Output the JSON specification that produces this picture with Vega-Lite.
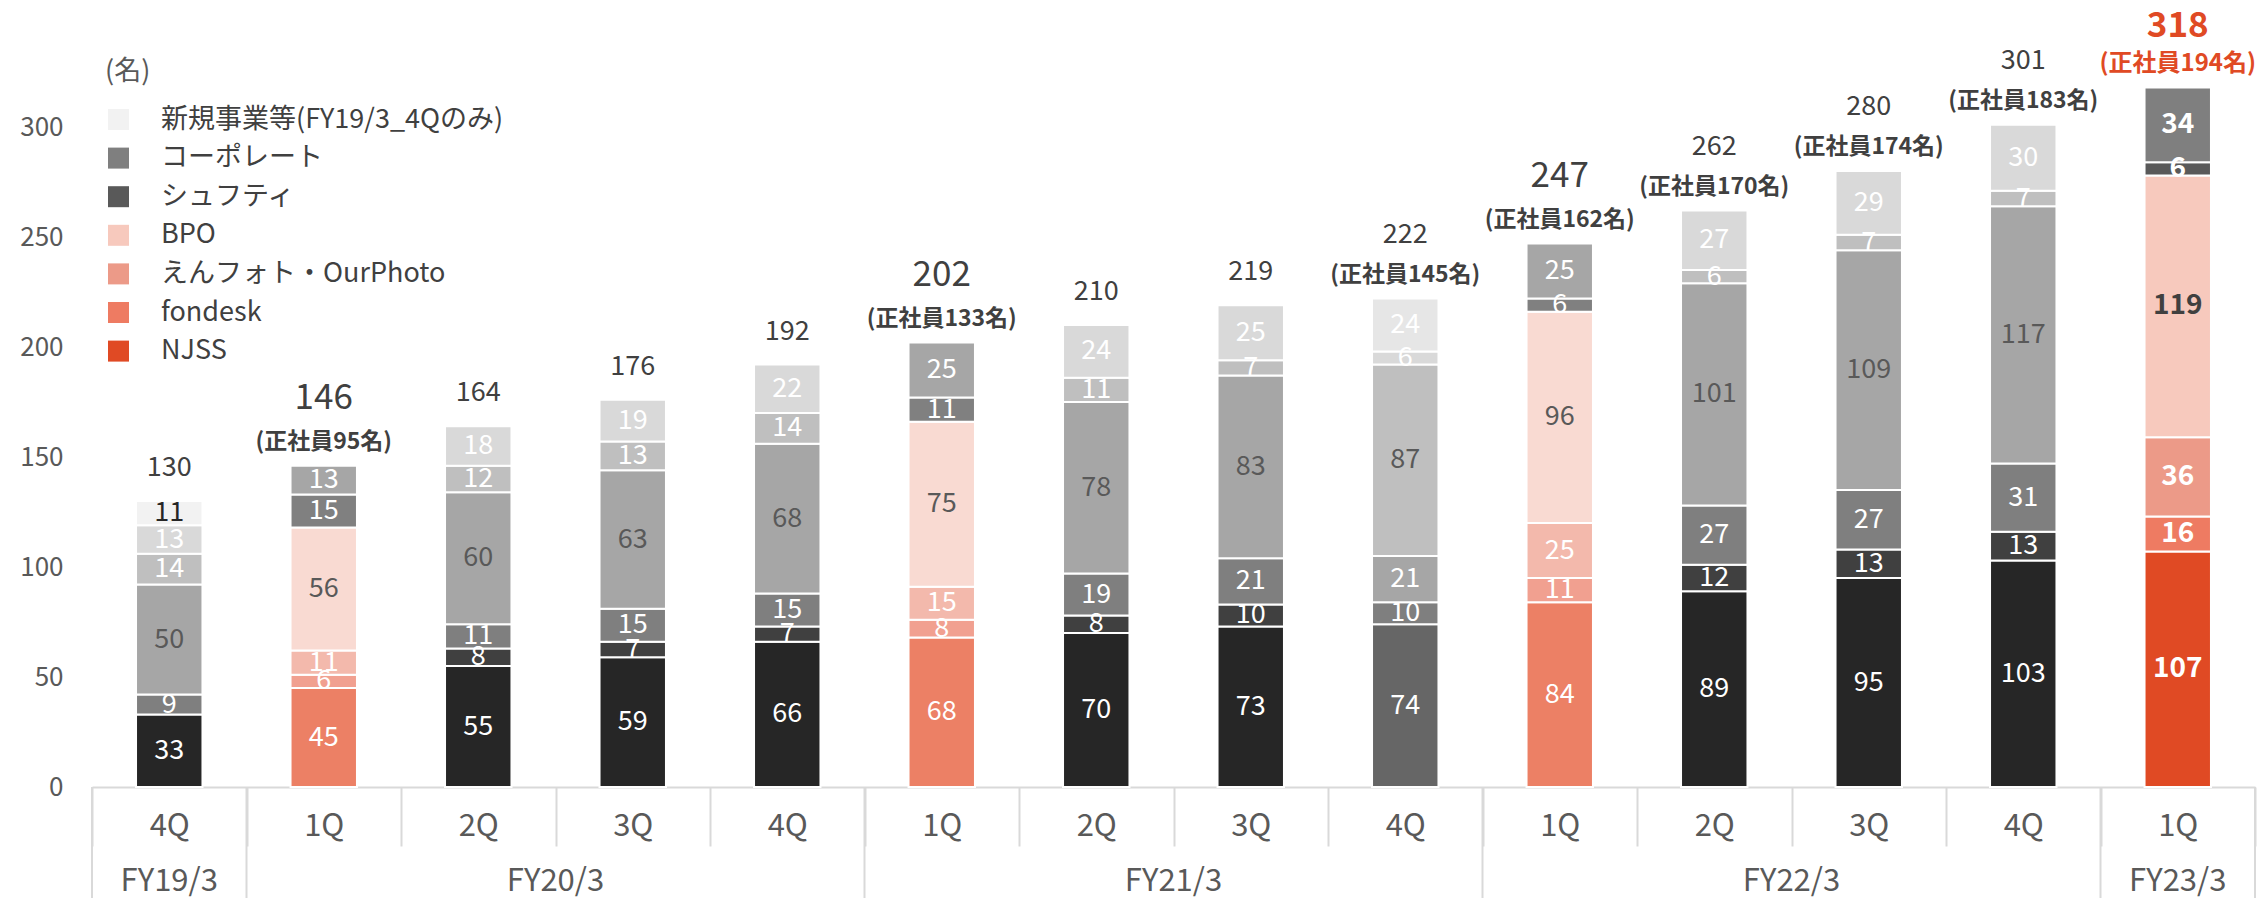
{
  "$schema": "https://vega.github.io/schema/vega-lite/v6.json",
  "width": 2163,
  "height": 770,
  "autosize": {"type": "none"},
  "padding": {"left": 92, "top": 17, "right": 2, "bottom": 111},
  "background": "white",
  "datasets": {
    "segments": [
      {"period": "FY19/3 4Q", "series": "NJSS", "value": 33},
      {"period": "FY19/3 4Q", "series": "えんフォト・OurPhoto", "value": 9},
      {"period": "FY19/3 4Q", "series": "BPO", "value": 50},
      {"period": "FY19/3 4Q", "series": "シュフティ", "value": 14},
      {"period": "FY19/3 4Q", "series": "コーポレート", "value": 13},
      {"period": "FY19/3 4Q", "series": "新規事業等(FY19/3_4Qのみ)", "value": 11},
      {"period": "FY20/3 1Q", "series": "NJSS", "value": 45},
      {"period": "FY20/3 1Q", "series": "fondesk", "value": 6},
      {"period": "FY20/3 1Q", "series": "えんフォト・OurPhoto", "value": 11},
      {"period": "FY20/3 1Q", "series": "BPO", "value": 56},
      {"period": "FY20/3 1Q", "series": "シュフティ", "value": 15},
      {"period": "FY20/3 1Q", "series": "コーポレート", "value": 13},
      {"period": "FY20/3 2Q", "series": "NJSS", "value": 55},
      {"period": "FY20/3 2Q", "series": "fondesk", "value": 8},
      {"period": "FY20/3 2Q", "series": "えんフォト・OurPhoto", "value": 11},
      {"period": "FY20/3 2Q", "series": "BPO", "value": 60},
      {"period": "FY20/3 2Q", "series": "シュフティ", "value": 12},
      {"period": "FY20/3 2Q", "series": "コーポレート", "value": 18},
      {"period": "FY20/3 3Q", "series": "NJSS", "value": 59},
      {"period": "FY20/3 3Q", "series": "fondesk", "value": 7},
      {"period": "FY20/3 3Q", "series": "えんフォト・OurPhoto", "value": 15},
      {"period": "FY20/3 3Q", "series": "BPO", "value": 63},
      {"period": "FY20/3 3Q", "series": "シュフティ", "value": 13},
      {"period": "FY20/3 3Q", "series": "コーポレート", "value": 19},
      {"period": "FY20/3 4Q", "series": "NJSS", "value": 66},
      {"period": "FY20/3 4Q", "series": "fondesk", "value": 7},
      {"period": "FY20/3 4Q", "series": "えんフォト・OurPhoto", "value": 15},
      {"period": "FY20/3 4Q", "series": "BPO", "value": 68},
      {"period": "FY20/3 4Q", "series": "シュフティ", "value": 14},
      {"period": "FY20/3 4Q", "series": "コーポレート", "value": 22},
      {"period": "FY21/3 1Q", "series": "NJSS", "value": 68},
      {"period": "FY21/3 1Q", "series": "fondesk", "value": 8},
      {"period": "FY21/3 1Q", "series": "えんフォト・OurPhoto", "value": 15},
      {"period": "FY21/3 1Q", "series": "BPO", "value": 75},
      {"period": "FY21/3 1Q", "series": "シュフティ", "value": 11},
      {"period": "FY21/3 1Q", "series": "コーポレート", "value": 25},
      {"period": "FY21/3 2Q", "series": "NJSS", "value": 70},
      {"period": "FY21/3 2Q", "series": "fondesk", "value": 8},
      {"period": "FY21/3 2Q", "series": "えんフォト・OurPhoto", "value": 19},
      {"period": "FY21/3 2Q", "series": "BPO", "value": 78},
      {"period": "FY21/3 2Q", "series": "シュフティ", "value": 11},
      {"period": "FY21/3 2Q", "series": "コーポレート", "value": 24},
      {"period": "FY21/3 3Q", "series": "NJSS", "value": 73},
      {"period": "FY21/3 3Q", "series": "fondesk", "value": 10},
      {"period": "FY21/3 3Q", "series": "えんフォト・OurPhoto", "value": 21},
      {"period": "FY21/3 3Q", "series": "BPO", "value": 83},
      {"period": "FY21/3 3Q", "series": "シュフティ", "value": 7},
      {"period": "FY21/3 3Q", "series": "コーポレート", "value": 25},
      {"period": "FY21/3 4Q", "series": "NJSS", "value": 74},
      {"period": "FY21/3 4Q", "series": "fondesk", "value": 10},
      {"period": "FY21/3 4Q", "series": "えんフォト・OurPhoto", "value": 21},
      {"period": "FY21/3 4Q", "series": "BPO", "value": 87},
      {"period": "FY21/3 4Q", "series": "シュフティ", "value": 6},
      {"period": "FY21/3 4Q", "series": "コーポレート", "value": 24},
      {"period": "FY22/3 1Q", "series": "NJSS", "value": 84},
      {"period": "FY22/3 1Q", "series": "fondesk", "value": 11},
      {"period": "FY22/3 1Q", "series": "えんフォト・OurPhoto", "value": 25},
      {"period": "FY22/3 1Q", "series": "BPO", "value": 96},
      {"period": "FY22/3 1Q", "series": "シュフティ", "value": 6},
      {"period": "FY22/3 1Q", "series": "コーポレート", "value": 25},
      {"period": "FY22/3 2Q", "series": "NJSS", "value": 89},
      {"period": "FY22/3 2Q", "series": "fondesk", "value": 12},
      {"period": "FY22/3 2Q", "series": "えんフォト・OurPhoto", "value": 27},
      {"period": "FY22/3 2Q", "series": "BPO", "value": 101},
      {"period": "FY22/3 2Q", "series": "シュフティ", "value": 6},
      {"period": "FY22/3 2Q", "series": "コーポレート", "value": 27},
      {"period": "FY22/3 3Q", "series": "NJSS", "value": 95},
      {"period": "FY22/3 3Q", "series": "fondesk", "value": 13},
      {"period": "FY22/3 3Q", "series": "えんフォト・OurPhoto", "value": 27},
      {"period": "FY22/3 3Q", "series": "BPO", "value": 109},
      {"period": "FY22/3 3Q", "series": "シュフティ", "value": 7},
      {"period": "FY22/3 3Q", "series": "コーポレート", "value": 29},
      {"period": "FY22/3 4Q", "series": "NJSS", "value": 103},
      {"period": "FY22/3 4Q", "series": "fondesk", "value": 13},
      {"period": "FY22/3 4Q", "series": "えんフォト・OurPhoto", "value": 31},
      {"period": "FY22/3 4Q", "series": "BPO", "value": 117},
      {"period": "FY22/3 4Q", "series": "シュフティ", "value": 7},
      {"period": "FY22/3 4Q", "series": "コーポレート", "value": 30},
      {"period": "FY23/3 1Q", "series": "NJSS", "value": 107},
      {"period": "FY23/3 1Q", "series": "fondesk", "value": 16},
      {"period": "FY23/3 1Q", "series": "えんフォト・OurPhoto", "value": 36},
      {"period": "FY23/3 1Q", "series": "BPO", "value": 119},
      {"period": "FY23/3 1Q", "series": "シュフティ", "value": 6},
      {"period": "FY23/3 1Q", "series": "コーポレート", "value": 34}
    ],
    "totals": [
      {"period": "FY19/3 4Q", "total": 130, "staff": null},
      {"period": "FY20/3 1Q", "total": 146, "staff": 95},
      {"period": "FY20/3 2Q", "total": 164, "staff": null},
      {"period": "FY20/3 3Q", "total": 176, "staff": null},
      {"period": "FY20/3 4Q", "total": 192, "staff": null},
      {"period": "FY21/3 1Q", "total": 202, "staff": 133},
      {"period": "FY21/3 2Q", "total": 210, "staff": null},
      {"period": "FY21/3 3Q", "total": 219, "staff": null},
      {"period": "FY21/3 4Q", "total": 222, "staff": 145},
      {"period": "FY22/3 1Q", "total": 247, "staff": 162},
      {"period": "FY22/3 2Q", "total": 262, "staff": 170},
      {"period": "FY22/3 3Q", "total": 280, "staff": 174},
      {"period": "FY22/3 4Q", "total": 301, "staff": 183},
      {"period": "FY23/3 1Q", "total": 318, "staff": 194}
    ],
    "groups": [
      {"fy": "FY19/3", "first": "FY19/3 4Q", "mid": "FY19/3 4Q", "last": "FY19/3 4Q", "bars": 1},
      {"fy": "FY20/3", "first": "FY20/3 1Q", "mid": "FY20/3 3Q", "last": "FY20/3 4Q", "bars": 4},
      {"fy": "FY21/3", "first": "FY21/3 1Q", "mid": "FY21/3 3Q", "last": "FY21/3 4Q", "bars": 4},
      {"fy": "FY22/3", "first": "FY22/3 1Q", "mid": "FY22/3 3Q", "last": "FY22/3 4Q", "bars": 4},
      {"fy": "FY23/3", "first": "FY23/3 1Q", "mid": "FY23/3 1Q", "last": "FY23/3 1Q", "bars": 1}
    ]
  },
  "layer": [
    {
      "data": {"name": "segments"},
      "transform": [
        {"calculate": "indexof(['NJSS','fondesk','えんフォト・OurPhoto','BPO','シュフティ','コーポレート','新規事業等(FY19/3_4Qのみ)'], datum.series)", "as": "rank"},
        {"calculate": "datum.period == 'FY23/3 1Q' ? 'latest' : (datum.period == 'FY21/3 4Q' ? 'alt' : (indexof(['FY20/3 1Q','FY21/3 1Q','FY22/3 1Q'], datum.period) >= 0 ? 'q1' : 'base'))", "as": "tone"},
        {"calculate": "datum.series + '|' + datum.tone", "as": "key"},
        {"stack": "value", "groupby": ["period"], "sort": [{"field": "rank", "order": "ascending"}], "as": ["v0", "v1"]},
        {"calculate": "(datum.v0 + datum.v1) / 2", "as": "mid"}
      ],
      "layer": [
        {
          "mark": {"type": "bar", "width": {"band": 0.43}, "stroke": "white", "strokeWidth": 2},
          "encoding": {
            "x": {
              "field": "period", "type": "nominal", "title": null,
              "scale": {
                "domain": ["FY19/3 4Q", "FY20/3 1Q", "FY20/3 2Q", "FY20/3 3Q", "FY20/3 4Q", "FY21/3 1Q", "FY21/3 2Q", "FY21/3 3Q", "FY21/3 4Q", "FY22/3 1Q", "FY22/3 2Q", "FY22/3 3Q", "FY22/3 4Q", "FY23/3 1Q"],
                "paddingInner": 0, "paddingOuter": 0
              }
            },
            "y": {
              "field": "v0", "type": "quantitative", "title": null,
              "scale": {"domain": [0, 350], "nice": false},
              "axis": {"values": [0, 50, 100, 150, 200, 250, 300]}
            },
            "y2": {"field": "v1"},
            "color": {
              "field": "key", "type": "nominal",
              "scale": {
                "domain": [
                  "NJSS|base", "fondesk|base", "えんフォト・OurPhoto|base", "BPO|base", "シュフティ|base", "コーポレート|base", "新規事業等(FY19/3_4Qのみ)|base",
                  "NJSS|q1", "fondesk|q1", "えんフォト・OurPhoto|q1", "BPO|q1", "シュフティ|q1", "コーポレート|q1",
                  "NJSS|alt", "fondesk|alt", "えんフォト・OurPhoto|alt", "BPO|alt", "シュフティ|alt", "コーポレート|alt",
                  "NJSS|latest", "fondesk|latest", "えんフォト・OurPhoto|latest", "BPO|latest", "シュフティ|latest", "コーポレート|latest", "新規事業等(FY19/3_4Qのみ)|latest"
                ],
                "range": [
                  "#262626", "#404040", "#7f7f7f", "#a6a6a6", "#bfbfbf", "#d9d9d9", "#f2f2f2",
                  "#ec8065", "#f1a090", "#f3b9ac", "#f9dad2", "#808080", "#a6a6a6",
                  "#666666", "#7f7f7f", "#a6a6a6", "#bfbfbf", "#d9d9d9", "#e6e6e6",
                  "#e04a24", "#ee7b62", "#ec9a88", "#f7c9bd", "#595959", "#7f7f7f", "#f2f2f2"
                ]
              },
              "legend": {
                "values": ["新規事業等(FY19/3_4Qのみ)|latest", "コーポレート|latest", "シュフティ|latest", "BPO|latest", "えんフォト・OurPhoto|latest", "fondesk|latest", "NJSS|latest"],
                "labelExpr": "split(datum.label, '|')[0]",
                "orient": "none", "legendX": 13, "legendY": 42, "direction": "vertical",
                "title": "(名)", "titleFontSize": 27, "titleFontWeight": "normal", "titleColor": "#595959", "titlePadding": 20,
                "labelFontSize": 27, "labelColor": "#404040", "labelOffset": 29, "labelLimit": 800,
                "symbolType": "square", "symbolSize": 441, "symbolStrokeWidth": 0, "symbolOpacity": 1,
                "rowPadding": 10.6
              }
            }
          }
        },
        {
          "transform": [{"filter": "datum.tone != 'latest'"}],
          "mark": {"type": "text", "fontSize": 27, "baseline": "middle", "align": "center"},
          "encoding": {
            "x": {"field": "period", "type": "nominal", "title": null},
            "y": {"field": "mid", "type": "quantitative", "title": null},
            "text": {"field": "value", "type": "quantitative"},
            "color": {
              "condition": [
                {"test": "datum.series == 'BPO'", "value": "#595959"},
                {"test": "datum.series == '新規事業等(FY19/3_4Qのみ)'", "value": "#262626"}
              ],
              "value": "#ffffff"
            }
          }
        },
        {
          "transform": [{"filter": "datum.tone == 'latest'"}],
          "mark": {"type": "text", "fontSize": 28, "fontWeight": "bold", "baseline": "middle", "align": "center"},
          "encoding": {
            "x": {"field": "period", "type": "nominal", "title": null},
            "y": {"field": "mid", "type": "quantitative", "title": null},
            "text": {"field": "value", "type": "quantitative"},
            "color": {
              "condition": [{"test": "datum.series == 'BPO'", "value": "#404040"}],
              "value": "#ffffff"
            }
          }
        }
      ]
    },
    {
      "data": {"name": "totals"},
      "transform": [{"calculate": "'(正社員' + datum.staff + '名)'", "as": "staffLabel"}],
      "layer": [
        {
          "transform": [{"filter": "datum.staff == null"}],
          "mark": {"type": "text", "fontSize": 27, "color": "#404040", "baseline": "middle", "dy": -33},
          "encoding": {
            "x": {"field": "period", "type": "nominal", "title": null},
            "y": {"field": "total", "type": "quantitative", "title": null},
            "text": {"field": "total", "type": "quantitative"}
          }
        },
        {
          "transform": [{"filter": "datum.staff != null && indexof(['FY20/3 1Q','FY21/3 1Q','FY22/3 1Q','FY23/3 1Q'], datum.period) < 0"}],
          "mark": {"type": "text", "fontSize": 27, "color": "#404040", "baseline": "middle", "dy": -64},
          "encoding": {
            "x": {"field": "period", "type": "nominal", "title": null},
            "y": {"field": "total", "type": "quantitative", "title": null},
            "text": {"field": "total", "type": "quantitative"}
          }
        },
        {
          "transform": [{"filter": "indexof(['FY20/3 1Q','FY21/3 1Q','FY22/3 1Q'], datum.period) >= 0"}],
          "mark": {"type": "text", "fontSize": 35, "color": "#404040", "baseline": "middle", "dy": -68},
          "encoding": {
            "x": {"field": "period", "type": "nominal", "title": null},
            "y": {"field": "total", "type": "quantitative", "title": null},
            "text": {"field": "total", "type": "quantitative"}
          }
        },
        {
          "transform": [{"filter": "datum.period == 'FY23/3 1Q'"}],
          "mark": {"type": "text", "fontSize": 35, "fontWeight": "bold", "color": "#e04a24", "baseline": "middle", "dy": -61},
          "encoding": {
            "x": {"field": "period", "type": "nominal", "title": null},
            "y": {"field": "total", "type": "quantitative", "title": null},
            "text": {"field": "total", "type": "quantitative"}
          }
        },
        {
          "transform": [{"filter": "datum.staff != null && datum.period != 'FY23/3 1Q'"}],
          "mark": {"type": "text", "fontSize": 23, "fontWeight": "bold", "color": "#404040", "baseline": "middle", "dy": -24},
          "encoding": {
            "x": {"field": "period", "type": "nominal", "title": null},
            "y": {"field": "total", "type": "quantitative", "title": null},
            "text": {"field": "staffLabel", "type": "nominal"}
          }
        },
        {
          "transform": [{"filter": "datum.period == 'FY23/3 1Q'"}],
          "mark": {"type": "text", "fontSize": 24, "fontWeight": "bold", "color": "#e04a24", "baseline": "middle", "dy": -23},
          "encoding": {
            "x": {"field": "period", "type": "nominal", "title": null},
            "y": {"field": "total", "type": "quantitative", "title": null},
            "text": {"field": "staffLabel", "type": "nominal"}
          }
        }
      ]
    },
    {
      "data": {"name": "groups"},
      "layer": [
        {
          "mark": {"type": "rule", "color": "#d9d9d9", "strokeWidth": 2},
          "encoding": {
            "x": {"field": "first", "type": "nominal", "bandPosition": 0, "title": null},
            "y": {"datum": 0},
            "y2": {"datum": -52}
          }
        },
        {
          "transform": [{"filter": "datum.fy == 'FY23/3'"}],
          "mark": {"type": "rule", "color": "#d9d9d9", "strokeWidth": 2},
          "encoding": {
            "x": {"field": "last", "type": "nominal", "bandPosition": 1, "title": null},
            "y": {"datum": 0},
            "y2": {"datum": -52}
          }
        },
        {
          "transform": [{"filter": "datum.bars == 1"}],
          "mark": {"type": "text", "fontSize": 31, "color": "#595959", "baseline": "middle"},
          "encoding": {
            "x": {"field": "first", "type": "nominal", "title": null},
            "y": {"datum": -43.2},
            "text": {"field": "fy", "type": "nominal"}
          }
        },
        {
          "transform": [{"filter": "datum.bars == 4"}],
          "mark": {"type": "text", "fontSize": 31, "color": "#595959", "baseline": "middle"},
          "encoding": {
            "x": {"field": "mid", "type": "nominal", "bandPosition": 0, "title": null},
            "y": {"datum": -43.2},
            "text": {"field": "fy", "type": "nominal"}
          }
        }
      ]
    }
  ],
  "config": {
    "font": "Noto Sans CJK JP",
    "view": {"stroke": null},
    "axisY": {
      "domain": false, "ticks": false, "grid": false,
      "labelFontSize": 26, "labelColor": "#595959", "labelPadding": 29
    },
    "axisX": {
      "domain": true, "domainColor": "#d9d9d9", "domainWidth": 2,
      "ticks": true, "tickColor": "#d9d9d9", "tickWidth": 2, "tickSize": 59, "tickBand": "extent",
      "grid": false, "labelFontSize": 31, "labelColor": "#595959", "labelAngle": 0,
      "labelPadding": -20, "labelBaseline": "middle",
      "labelExpr": "split(datum.label, ' ')[1]"
    }
  }
}
